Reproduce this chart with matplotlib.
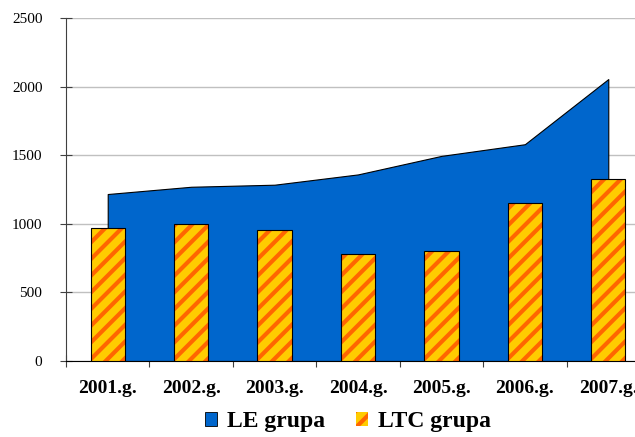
import numpy as np
import matplotlib.pyplot as plt
from matplotlib.patches import Patch

years = ['2001.g.', '2002.g.', '2003.g.', '2004.g.', '2005.g.', '2006.g.', '2007.g.']
le_grupa = [1217, 1270, 1285, 1360, 1495, 1580, 2055]
ltc_grupa = [969, 998, 955, 780, 805, 1151, 1326]

blue = '#0066CC'
yellow = '#FFCC00'
orange = '#FF6600'

plt.rcParams['font.family'] = ['Liberation Serif', 'DejaVu Serif']
plt.rcParams['hatch.linewidth'] = 3.0

fig = plt.figure(figsize=(6.35, 4.37), dpi=100, facecolor='w')
ax = fig.add_axes([66/635, 1-361/437, (650-66)/635, (361-18)/437])

x = np.arange(len(years))
ax.fill_between(x, le_grupa, 0, facecolor=blue, edgecolor='k', lw=0.8, zorder=2)

# bars: hatch drawn with orange edge, then a black outline on top
ax.bar(x, ltc_grupa, width=0.41, color=yellow, edgecolor=orange, hatch='//', lw=0, zorder=3)
ax.bar(x, ltc_grupa, width=0.41, facecolor='none', edgecolor='k', lw=0.8, zorder=4)

ax.set_xlim(-0.5, 6.5)
ax.set_ylim(0, 2500)
ax.set_yticks(np.arange(0, 2501, 500))
ax.yaxis.grid(True, color='#c0c0c0', lw=1)
ax.set_axisbelow(True)

ax.set_xticks(np.arange(-0.5, 7, 1))
ax.set_xticklabels([])
ax.set_xticks(x, minor=True)
ax.set_xticklabels(years, minor=True, fontweight='bold', fontsize=14)
ax.tick_params(axis='x', which='minor', length=0, pad=14)
ax.tick_params(axis='x', which='major', direction='inout', length=8, color='#404040')
ax.tick_params(axis='y', direction='inout', length=8, labelsize=11, pad=13, color='#404040')

for s in ['top', 'right']:
    ax.spines[s].set_visible(False)
ax.spines['left'].set_color('#404040')
ax.spines['bottom'].set_color('k')

handles = [Patch(facecolor=blue, edgecolor='k', lw=0.6, label='LE grupa'),
           Patch(facecolor=yellow, edgecolor=orange, hatch='//', lw=0, label='LTC grupa')]
leg = fig.legend(handles=handles, loc='center', bbox_to_anchor=(348/635, 1-422/437), ncol=2, frameon=False,
                 prop={'weight': 'bold', 'size': 17}, handlelength=0.5, handleheight=0.5,
                 handletextpad=0.42, columnspacing=1.3)

fig.savefig('out.png', dpi=100)
